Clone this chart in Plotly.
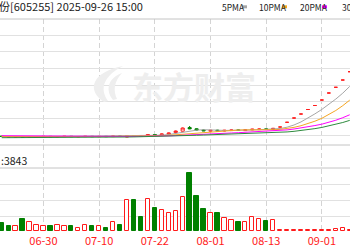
import plotly.graph_objects as go

# ---------------- data ----------------
dates = ["06-20", "06-23", "06-24", "06-25", "06-26", "06-27", "06-30", "07-01", "07-02", "07-03",
         "07-04", "07-07", "07-08", "07-09", "07-10", "07-11", "07-14", "07-15", "07-16", "07-17",
         "07-18", "07-21", "07-22", "07-23", "07-24", "07-25", "07-28", "07-29", "07-30", "07-31",
         "08-01", "08-04", "08-05", "08-06", "08-07", "08-08", "08-11", "08-12", "08-13", "08-14",
         "08-22", "08-25", "08-26", "08-27", "08-28", "08-29", "09-01", "09-02", "09-03", "09-04",
         "09-05"]

opens = [24.8, 24.5, 24.1, 24.3, 23.9, 24.1, 24.3, 24.6, 24.2, 24.4,
         24.7, 24.2, 24.4, 24.7, 24.3, 24.7, 24.4, 25.0, 24.0, 25.4,
         25.0, 25.0, 26.4, 26.0, 26.8, 28.4, 29.8, 33.4, 32.2, 31.0,
         29.8, 30.8, 30.0, 30.4, 31.1, 30.4, 31.1, 31.4, 32.1, 31.5,
         34.0, 38.7, 43.0, 47.0, 51.5, 55.5, 61.0, 68.0, 73.7, 81.0,
         89.3]
highs = [25.1, 24.8, 24.7, 24.6, 24.5, 24.7, 24.9, 24.9, 24.8, 25.0,
         25.0, 24.8, 25.0, 25.0, 24.9, 25.0, 25.3, 25.3, 25.8, 26.0,
         25.3, 26.9, 26.8, 27.4, 28.4, 30.5, 33.5, 35.0, 32.6, 31.4,
         31.1, 31.2, 31.1, 31.4, 31.5, 31.6, 32.2, 32.4, 32.5, 33.1,
         34.0, 38.7, 43.0, 47.0, 51.5, 55.5, 61.0, 68.0, 73.7, 81.0,
         89.3]
lows = [24.2, 23.9, 23.8, 23.5, 23.6, 23.8, 24.0, 24.0, 23.9, 24.1,
        24.1, 23.9, 24.1, 24.1, 24.0, 24.1, 24.1, 24.4, 23.8, 24.4,
        24.4, 24.7, 25.7, 25.7, 26.5, 28.1, 29.5, 31.8, 30.7, 29.9,
        29.5, 29.9, 29.7, 30.1, 30.3, 30.1, 30.8, 31.1, 31.4, 31.2,
        34.0, 38.7, 43.0, 47.0, 51.5, 55.5, 61.0, 68.0, 73.7, 81.0,
        89.3]
closes = [24.5, 24.2, 24.4, 23.8, 24.2, 24.4, 24.6, 24.3, 24.5, 24.7,
          24.4, 24.5, 24.7, 24.4, 24.6, 24.4, 25.0, 24.7, 25.5, 25.0,
          24.7, 26.5, 26.0, 27.0, 28.0, 30.0, 33.0, 32.2, 31.0, 30.2,
          30.7, 30.2, 30.7, 31.0, 30.6, 31.2, 31.8, 32.0, 31.7, 32.7,
          34.0, 38.7, 43.0, 47.0, 51.5, 55.5, 61.0, 68.0, 73.7, 81.0,
          89.3]
volumes = [40000, 26500, 23500, 58500, 43500, 30000, 26500, 26500, 30000, 26500,
           26500, 16500, 30000, 26500, 23500, 13500, 43500, 31500, 156500, 153500,
           71500, 161500, 116500, 103500, 90000, 101000, 170000, 290000, 173500, 108500,
           90000, 90000, 64000, 53500, 45000, 45000, 70000, 58500, 50000, 53500,
           4200, 3600, 3900, 3500, 4100, 3800, 4300, 4000, 10000, 16500,
           7000]

ma5 = [24.4, 24.3, 24.3, 24.2, 24.22, 24.2, 24.28, 24.26, 24.4, 24.5,
       24.5, 24.48, 24.56, 24.54, 24.52, 24.52, 24.62, 24.62, 24.84, 24.92,
       24.98, 25.28, 25.54, 25.84, 26.44, 27.5, 28.8, 30.04, 30.84, 31.28,
       31.42, 30.86, 30.56, 30.56, 30.64, 30.74, 31.06, 31.32, 31.46, 31.88,
       32.44, 33.82, 36.02, 39.08, 42.84, 47.14, 51.6, 56.6, 61.94, 67.84,
       74.6]
ma10 = [24.5, 24.45, 24.4, 24.4, 24.35, 24.35, 24.3, 24.35, 24.35, 24.36,
        24.35, 24.38, 24.41, 24.47, 24.51, 24.51, 24.55, 24.59, 24.69, 24.72,
        24.75, 24.95, 25.08, 25.34, 25.68, 26.24, 27.04, 27.79, 28.34, 28.86,
        29.46, 29.83, 30.3, 30.7, 30.96, 31.08, 30.96, 30.94, 31.01, 31.26,
        31.59, 32.44, 33.67, 35.27, 37.36, 39.79, 42.71, 46.31, 50.51, 55.34,
        60.87]
ma20 = [25.3, 25.3, 25.25, 25.2, 25.2, 25.1, 25.1, 25.0, 25.0, 24.95,
        24.9, 24.85, 24.8, 24.75, 24.7, 24.7, 24.65, 24.6, 24.55, 24.54,
        24.55, 24.67, 24.75, 24.91, 25.1, 25.38, 25.8, 26.19, 26.52, 26.79,
        27.11, 27.39, 27.69, 28.02, 28.32, 28.66, 29.0, 29.37, 29.68, 30.06,
        30.53, 31.14, 31.99, 32.99, 34.16, 35.44, 36.84, 38.63, 40.76, 43.3,
        46.23]
ma30 = [23.3, 23.3, 23.35, 23.35, 23.4, 23.4, 23.45, 23.45, 23.5, 23.5,
        23.55, 23.6, 23.6, 23.65, 23.7, 23.75, 23.8, 23.9, 24.0, 24.1,
        24.2, 24.35, 24.5, 24.65, 24.8, 25.0, 25.25, 25.5, 25.75, 25.98,
        26.19, 26.39, 26.6, 26.84, 27.05, 27.28, 27.52, 27.77, 28.01, 28.28,
        28.6, 29.07, 29.68, 30.44, 31.33, 32.37, 33.57, 35.01, 36.62, 38.49,
        40.64]

tick_dates = ["06-30", "07-10", "07-22", "08-01", "08-13", "09-01"]
early_tick = "06-18"          # label just left of the visible window
title_text = "天普股份[605255] 2025-09-26 15:00"
ma_names = ["5PMA", "10PMA", "20PMA", "30PMA"]
vol_text = ":3843"
watermark = "东方财富"

# ---------------- styling ----------------
W, H = 350, 250
UP = "#ff1a1a"
DOWN = "#008000"
MA_COLORS = ["#a6a6a6", "#f5a623", "#ff00ff", "#2e8b3e"]
GRID = "#e1e1e1"
VGRID = "#d4d4d4"
SEP = "#c4c4c4"
FONT = "Noto Sans CJK SC"


def px(x):
    return x / W


def py(y):
    return 1 - y / H


fig = go.Figure()

fig.add_trace(go.Candlestick(
    x=dates, open=opens, high=highs, low=lows, close=closes,
    increasing=dict(line=dict(color=UP, width=1), fillcolor="#ffffff"),
    decreasing=dict(line=dict(color=DOWN, width=1), fillcolor=DOWN),
    whiskerwidth=0, xaxis="x", yaxis="y", showlegend=False, hoverinfo="skip"))

for name, vals, col in zip(ma_names, [ma5, ma10, ma20, ma30], MA_COLORS):
    fig.add_trace(go.Scatter(x=dates, y=vals, mode="lines", name=name,
                             line=dict(color=col, width=1), xaxis="x", yaxis="y",
                             showlegend=False, hoverinfo="skip"))

up = [c >= o for o, c in zip(opens, closes)]
fig.add_trace(go.Bar(
    x=dates, y=volumes, width=0.62, xaxis="x2", yaxis="y2", showlegend=False,
    marker=dict(color=["#ffffff" if u else DOWN for u in up],
                line=dict(color=[UP if u else DOWN for u in up], width=1)),
    hoverinfo="skip"))

xr = [-0.244, 50.04]
common_x = dict(type="category", range=xr, tickvals=tick_dates, showgrid=True,
                gridcolor=VGRID, griddash="5px,3px", gridwidth=1, zeroline=False,
                showline=False, ticks="", fixedrange=True)

price_grid = [26 + 16.6667 * k for k in range(7)]

fig.update_layout(
    width=W, height=H, margin=dict(l=0, r=0, t=0, b=0),
    paper_bgcolor="#ffffff", plot_bgcolor="#ffffff",
    bargap=0, boxgap=0.36,
    xaxis=dict(**common_x, domain=[0, 1], anchor="y", showticklabels=False,
               rangeslider=dict(visible=False)),
    yaxis=dict(domain=[py(143), py(19)], range=[18, 142], tickvals=price_grid,
               showticklabels=False, gridcolor=GRID, gridwidth=1, zeroline=False,
               showline=False, ticks="", fixedrange=True),
    xaxis2=dict(**common_x, domain=[0, 1], anchor="y2", matches="x",
                showticklabels=True,
                tickfont=dict(family=FONT, size=11, color=UP)),
    yaxis2=dict(domain=[py(232.5), py(145)], range=[-7500, 430000],
                tickvals=[71500, 152500, 233500], showticklabels=False,
                gridcolor=GRID, gridwidth=1, zeroline=False, showline=False,
                ticks="", fixedrange=True),
    font=dict(family=FONT, color="#222222"),
)

shapes = []
for yy in (19, 145, 168):
    shapes.append(dict(type="line", xref="paper", yref="paper", x0=0, x1=1,
                       y0=py(yy), y1=py(yy), line=dict(color=SEP, width=1)))

# legend swatches
for x0, col in zip((242, 282, 322, 362), MA_COLORS):
    shapes.append(dict(type="rect", xref="paper", yref="paper",
                       x0=px(x0), x1=px(x0 + 5), y0=py(8.3), y1=py(5.3),
                       line=dict(width=0), fillcolor=col))


# watermark logo (decoration)
def pth(points):
    out = []
    for tok in points:
        if isinstance(tok, str):
            out.append(tok)
        else:
            out.append("%.5f,%.5f" % (px(tok[0]), py(tok[1])))
    return " ".join(out)


logo1 = pth(["M", (104, 102), "C", (86, 90), (92, 72), (123, 66),
             "C", (104, 76), (99, 88), (108, 101), "Z"])
logo2 = pth(["M", (113, 100), "C", (105, 90), (108, 78), (122, 73),
             "C", (114, 82), (113, 90), (117, 99), "Z"])
for p in (logo1, logo2):
    shapes.append(dict(type="path", xref="paper", yref="paper", path=p,
                       fillcolor="#eeeeee", line=dict(width=0), layer="above"))

annotations = [
    dict(text=title_text, xref="paper", yref="paper", x=px(-36.5), y=py(5.5),
         xanchor="left", yanchor="middle", showarrow=False,
         font=dict(family=FONT, size=11, color="#222222")),
    dict(text=vol_text, xref="paper", yref="paper", x=px(-1), y=py(160),
         xanchor="left", yanchor="middle", showarrow=False,
         font=dict(family=FONT, size=10.5, color="#222222")),
    dict(text="<b>" + watermark + "</b>", xref="paper", yref="paper", x=px(193.5), y=py(85),
         xanchor="center", yanchor="middle", showarrow=False,
         font=dict(family=FONT, size=31, color="#eeeeee")),
    dict(text=early_tick, xref="x2", yref="paper", x=-2, y=py(241),
         xanchor="center", yanchor="middle", showarrow=False,
         font=dict(family=FONT, size=11, color=UP)),
]
for name, xl in zip(ma_names, (220, 257, 298, 340)):
    annotations.append(dict(text=name, xref="paper", yref="paper", x=px(xl), y=py(6.7),
                            xanchor="left", yanchor="middle", showarrow=False,
                            font=dict(family=FONT, size=8.5, color="#222222")))

fig.update_layout(shapes=shapes, annotations=annotations)

fig.write_html("out.html")
